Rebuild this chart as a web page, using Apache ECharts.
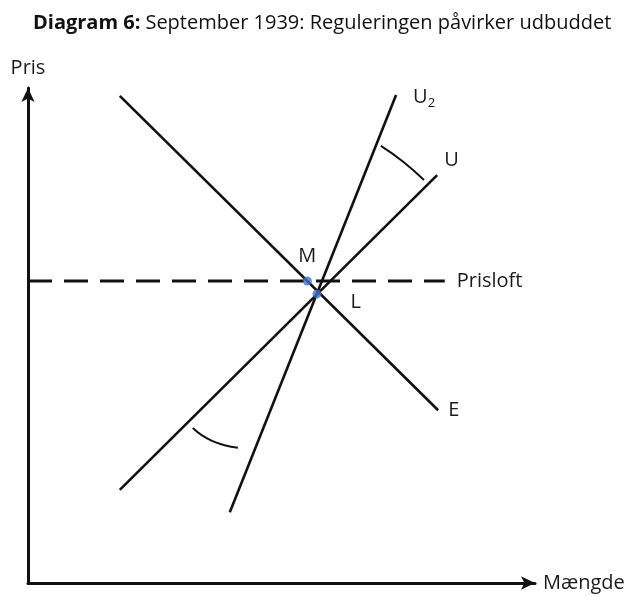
<!DOCTYPE html>
<html>
<head>
<meta charset="utf-8">
<script src="https://cdn.jsdelivr.net/npm/echarts@6/dist/echarts.min.js"></script>
<style>
  html, body { margin: 0; padding: 0; background: #fff; }
  #chart { width: 637px; height: 597px; }
</style>
</head>
<body>
<div id="chart"></div>
<script>
// line endpoints in (quantity, price) units
const demandE = [[1.81, 9.84], [8.09, 3.49]];
const supplyU = [[1.81, 1.88], [8.07, 8.24]];
const supplyU2 = [[3.98, 1.43], [7.26, 9.86]];
const priceCap = [[0, 6.1], [8.22, 6.1]];
const pointM = [5.51, 6.1];
const pointL = [5.7, 5.84];
const arcTop = [[6.96, 8.83], [7.4, 8.51], [7.81, 8.14]];
const arcBottom = [[3.25, 3.13], [3.63, 2.87], [4.14, 2.73]];

const ink = "#111";
const labelFont = { color: "#1a1a1a", fontSize: 20, fontFamily: "Open Sans", textBorderWidth: 0, opacity: 1 };

function endLabel(pts, label) {
  return pts.map((p, i) =>
    i === pts.length - 1 ? { value: p, label: Object.assign({ show: true }, label) } : { value: p }
  );
}

function lineSeries(data, style) {
  return {
    type: "line",
    data: data,
    symbol: "circle",
    symbolSize: 0,
    showSymbol: true,
    itemStyle: { color: ink },
    lineStyle: Object.assign({ color: ink, width: 2.6 }, style),
  };
}

const chart = echarts.init(document.getElementById("chart"));
chart.setOption({
  animation: false,
  title: {
    text: "{b|Diagram 6:} {n|September 1939: Reguleringen påvirker udbuddet}",
    left: 28,
    top: 8,
    textStyle: {
      rich: {
        b: { fontWeight: "bold", fontSize: 20, fontFamily: "Open Sans", color: "#111" },
        n: { fontWeight: "normal", fontSize: 20, fontFamily: "Open Sans", color: "#111" },
      },
    },
  },
  grid: { left: 28, top: 88, width: 507, height: 495 },
  xAxis: {
    type: "value",
    min: 0,
    max: 10,
    name: "Mængde",
    nameLocation: "end",
    nameGap: 8,
    nameTextStyle: labelFont,
    axisLine: { show: true, symbol: ["none", "arrow"], symbolSize: [10, 14], lineStyle: { color: ink, width: 3 } },
    axisTick: { show: false },
    axisLabel: { show: false },
    splitLine: { show: false },
  },
  yAxis: {
    type: "value",
    min: 0,
    max: 10,
    name: "Pris",
    nameLocation: "end",
    nameGap: 10,
    nameTextStyle: labelFont,
    axisLine: { show: true, symbol: ["none", "arrow"], symbolSize: [10, 14], lineStyle: { color: ink, width: 3 } },
    axisTick: { show: false },
    axisLabel: { show: false },
    splitLine: { show: false },
  },
  series: [
    lineSeries(endLabel(demandE, Object.assign({ formatter: "E", position: "right", distance: 10 }, labelFont))),
    lineSeries(endLabel(supplyU, Object.assign({ formatter: "U", position: "right", offset: [2, -15] }, labelFont))),
    lineSeries(endLabel(supplyU2, Object.assign({
      formatter: "U{s|2}", position: "right", offset: [12, 2],
      rich: { s: { fontSize: 13, color: "#1a1a1a", fontFamily: "Open Sans", padding: [12, 0, 0, 0] } },
    }, labelFont))),
    lineSeries(endLabel(priceCap, Object.assign({ formatter: "Prisloft", position: "right", distance: 12 }, labelFont)),
      { width: 3, type: [24, 12] }),
    Object.assign(lineSeries(arcTop, { width: 2 }), { smooth: true, symbol: "none" }),
    Object.assign(lineSeries(arcBottom, { width: 2 }), { smooth: true, symbol: "none" }),
    {
      type: "scatter",
      symbolSize: 9,
      itemStyle: { color: "#4472c4" },
      data: [
        { value: pointM, label: Object.assign({ show: true, formatter: "M", position: "top", distance: 10 }, labelFont) },
        { value: pointL, label: Object.assign({ show: true, formatter: "L", position: "right", offset: [24, 8] }, labelFont) },
      ],
      z: 5,
    },
  ],
});
</script>
</body>
</html>
